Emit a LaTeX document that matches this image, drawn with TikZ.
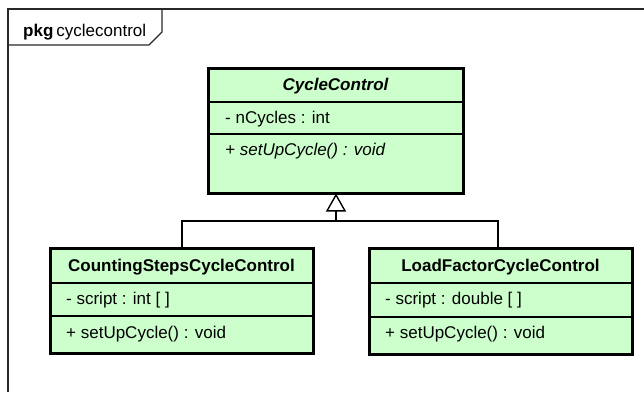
\documentclass[tikz,border=0pt]{standalone}
\usepackage{fontspec}
\setmainfont{Liberation Sans}
\usetikzlibrary{arrows.meta}
\definecolor{classfill}{RGB}{204,255,204}
\definecolor{framegray}{RGB}{40,40,40}
\tikzset{
  classbox/.style={draw=black, line width=3pt, fill=classfill},
  divider/.style={draw=black, line width=1.3pt},
  member/.style={anchor=west, inner sep=0pt, font=\fontsize{17}{20}\selectfont},
  classname/.style={inner sep=0pt, font=\fontsize{17}{20}\selectfont\bfseries},
  link/.style={draw=black, line width=1.4pt},
}
\begin{document}
\begin{tikzpicture}[x=1pt, y=-1pt]
\useasboundingbox (0,0) rectangle (644,392);

% package frame and its name tab
\draw[framegray, line width=1.5pt] (8,392) -- (8,9) -- (644,9);
\draw[framegray, line width=1.3pt] (8,45) -- (149,45) -- (162,32) -- (162,9);
\node[inner sep=0pt, anchor=west, font=\fontsize{17}{20}\selectfont] (pkgname) at (23,32)
  {\textbf{pkg}\hspace{3pt}cyclecontrol};

% abstract base class
\path[classbox] (208,68) rectangle (463,193);
\coordinate (cc-n) at (335.5,68);
\coordinate (cc-s) at (335.5,193);
\draw[divider] (208,102) -- (463,102);
\draw[divider] (208,134) -- (463,134);
\node[classname] (cctitle) at (335.5,86) {\itshape CycleControl};
\node[member] (ccattr) at (225,119.5) {- nCycles : int};
\node[member] (ccop) at (225,151.5) {\itshape + setUpCycle() : void};

% subclass: counting steps
\path[classbox] (50,248) rectangle (313,353);
\coordinate (cs-n) at (182,248);
\draw[divider] (50,283) -- (313,283);
\draw[divider] (50,316) -- (313,316);
\node[classname] (cstitle) at (181.5,267) {CountingStepsCycleControl};
\node[member] (csattr) at (66,300.5) {- script : int [ ]};
\node[member] (csop) at (66,334.5) {+ setUpCycle() : void};

% subclass: load factor
\path[classbox] (369,248) rectangle (632,354);
\coordinate (lf-n) at (498,248);
\draw[divider] (369,283) -- (632,283);
\draw[divider] (369,317) -- (632,317);
\node[classname] (lftitle) at (500.5,267) {LoadFactorCycleControl};
\node[member] (lfattr) at (385,300.5) {- script : double [ ]};
\node[member] (lfop) at (385,334.5) {+ setUpCycle() : void};

% generalization tree
\coordinate (junc) at (336,221);
\draw[link] (cs-n) |- (junc) -| (lf-n);
\draw[link, -{Triangle[open, length=18pt, width=20pt, line width=1.4pt]}]
  (junc) -- (336,193.5);
\end{tikzpicture}
\end{document}
